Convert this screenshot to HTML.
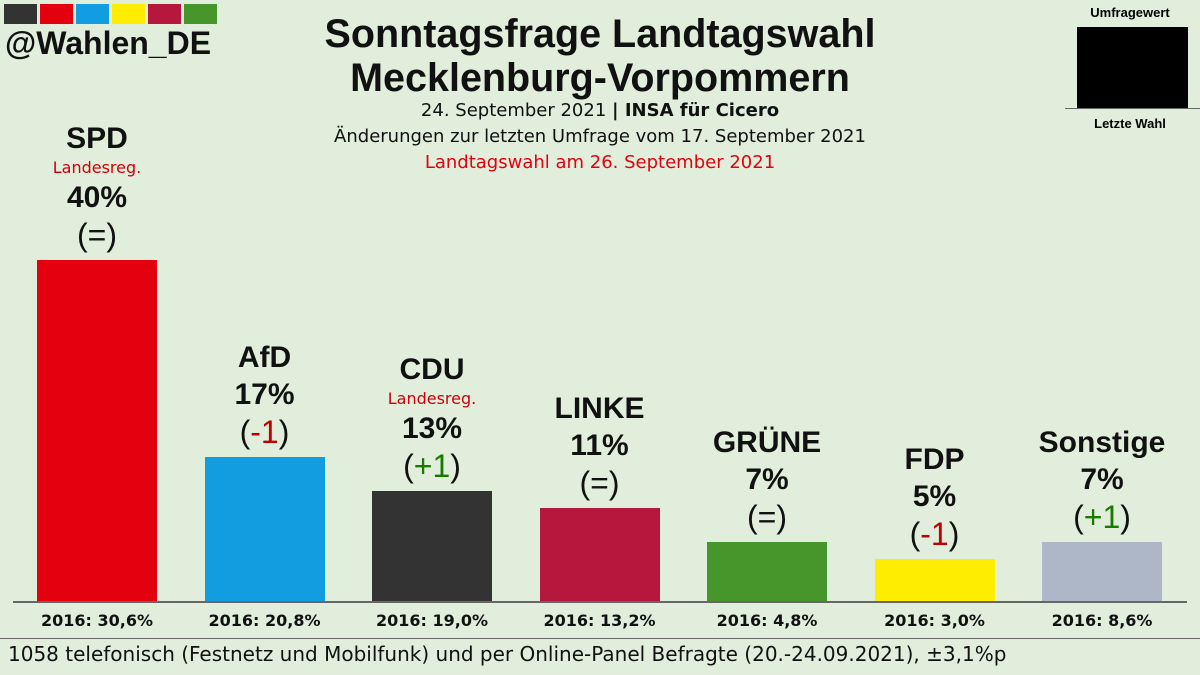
<!DOCTYPE html>
<html><head><meta charset="utf-8"><style>
body{margin:0;width:1200px;height:675px;background:#e1eedb;font-family:"Liberation Sans",sans-serif;overflow:hidden;position:relative}
.abs{position:absolute}
.lbl{position:absolute;width:200px;text-align:center;display:flex;flex-direction:column;align-items:center;color:#111}
.lbl .n,.lbl .p{font-weight:bold;font-size:30px;line-height:37px}
.lbl .r{color:#d0000a;font-size:16px;line-height:22px;font-family:"DejaVu Sans",sans-serif}
.lbl .c{font-size:32px;line-height:38px}
.y16{position:absolute;top:611px;width:200px;text-align:center;font-weight:bold;font-size:16px;color:#111;font-family:"DejaVu Sans",sans-serif}
</style></head><body>
<div class="abs" style="left:4px;top:4px;display:flex;gap:3px">
<div style="width:33px;height:20px;background:#333"></div><div style="width:33px;height:20px;background:#e3000f"></div><div style="width:33px;height:20px;background:#119de0"></div><div style="width:33px;height:20px;background:#ffed00"></div><div style="width:33px;height:20px;background:#b5173d"></div><div style="width:33px;height:20px;background:#46962b"></div></div>
<div class="abs" style="left:5px;top:25px;font-size:32px;font-weight:bold;color:#111">@Wahlen_DE</div>
<div class="abs" style="left:250px;width:700px;top:12px;text-align:center;font-size:39.5px;font-weight:bold;line-height:44px;color:#111">Sonntagsfrage Landtagswahl<br>Mecklenburg-Vorpommern</div>
<div class="abs" style="left:250px;width:700px;top:98px;text-align:center;font-size:18px;line-height:26px;color:#111;font-family:'DejaVu Sans',sans-serif">24. September 2021 <b>| INSA für Cicero</b><br>Änderungen zur letzten Umfrage vom 17. September 2021<br><span style="color:#e3000f">Landtagswahl am 26. September 2021</span></div>
<div class="abs" style="left:1060px;width:140px;top:5px;text-align:center;font-weight:bold;font-size:13px">Umfragewert</div>
<div class="abs" style="left:1077px;top:27px;width:111px;height:81px;background:#000"></div>
<div class="abs" style="left:1065px;top:108px;width:135px;height:1px;background:#666"></div>
<div class="abs" style="left:1060px;width:140px;top:116px;text-align:center;font-weight:bold;font-size:13px">Letzte Wahl</div>
<div id="chart"></div>
<div class="abs" style="left:13px;top:601px;width:1174px;height:2px;background:#666"></div>
<div class="abs" style="left:0;top:638px;width:1200px;height:1px;background:#666"></div>
<div class="abs" style="left:8px;top:642px;font-size:20px;color:#111;font-family:'DejaVu Sans',sans-serif">1058 telefonisch (Festnetz und Mobilfunk) und per Online-Panel Befragte (20.-24.09.2021), ±3,1%p</div>
<script>
const parties=["SPD","AfD","CDU","LINKE","GRÜNE","FDP","Sonstige"];
const values=[40,17,13,11,7,5,7];
const changes=["(=)","(-1)","(+1)","(=)","(=)","(-1)","(+1)"];
const prev=["30,6","20,8","19,0","13,2","4,8","3,0","8,6"];
const gov=[true,false,true,false,false,false,false];
const colors=["#e3000f","#119de0","#333333","#b5173d","#46962b","#ffed00","#adb7c8"];
const base=602,scale=8.55,x0=37,step=167.5,bw=120;
const c=document.getElementById('chart');
parties.forEach((p,i)=>{
 const x=x0+i*step,h=values[i]*scale,top=base-h;
 const b=document.createElement('div');b.className='abs';
 
 
 b.style.cssText=`left:${x}px;top:${top}px;width:${bw}px;height:${h}px;background:${colors[i]}`;
 c.appendChild(b);
 const l=document.createElement('div');l.className='lbl';
 
 
 l.style.left=(x+bw/2-100)+'px';l.style.bottom=(675-top+6)+'px';
 const col=changes[i].includes('-')?'#c00000':changes[i].includes('+')?'#1a7a00':'#111';
 const inner=changes[i].replace(/[()]/g,'');
 l.innerHTML=`<div class="n">${p}</div>${gov[i]?'<div class="r">Landesreg.</div>':''}<div class="p">${values[i]}%</div><div class="c">(<span style="color:${col}">${inner}</span>)</div>`;
 c.appendChild(l);
 const y=document.createElement('div');y.className='y16';
 
 
 y.style.left=(x+bw/2-100)+'px';y.textContent='2016: '+prev[i]+'%';
 c.appendChild(y);
});
</script>
</body></html>
